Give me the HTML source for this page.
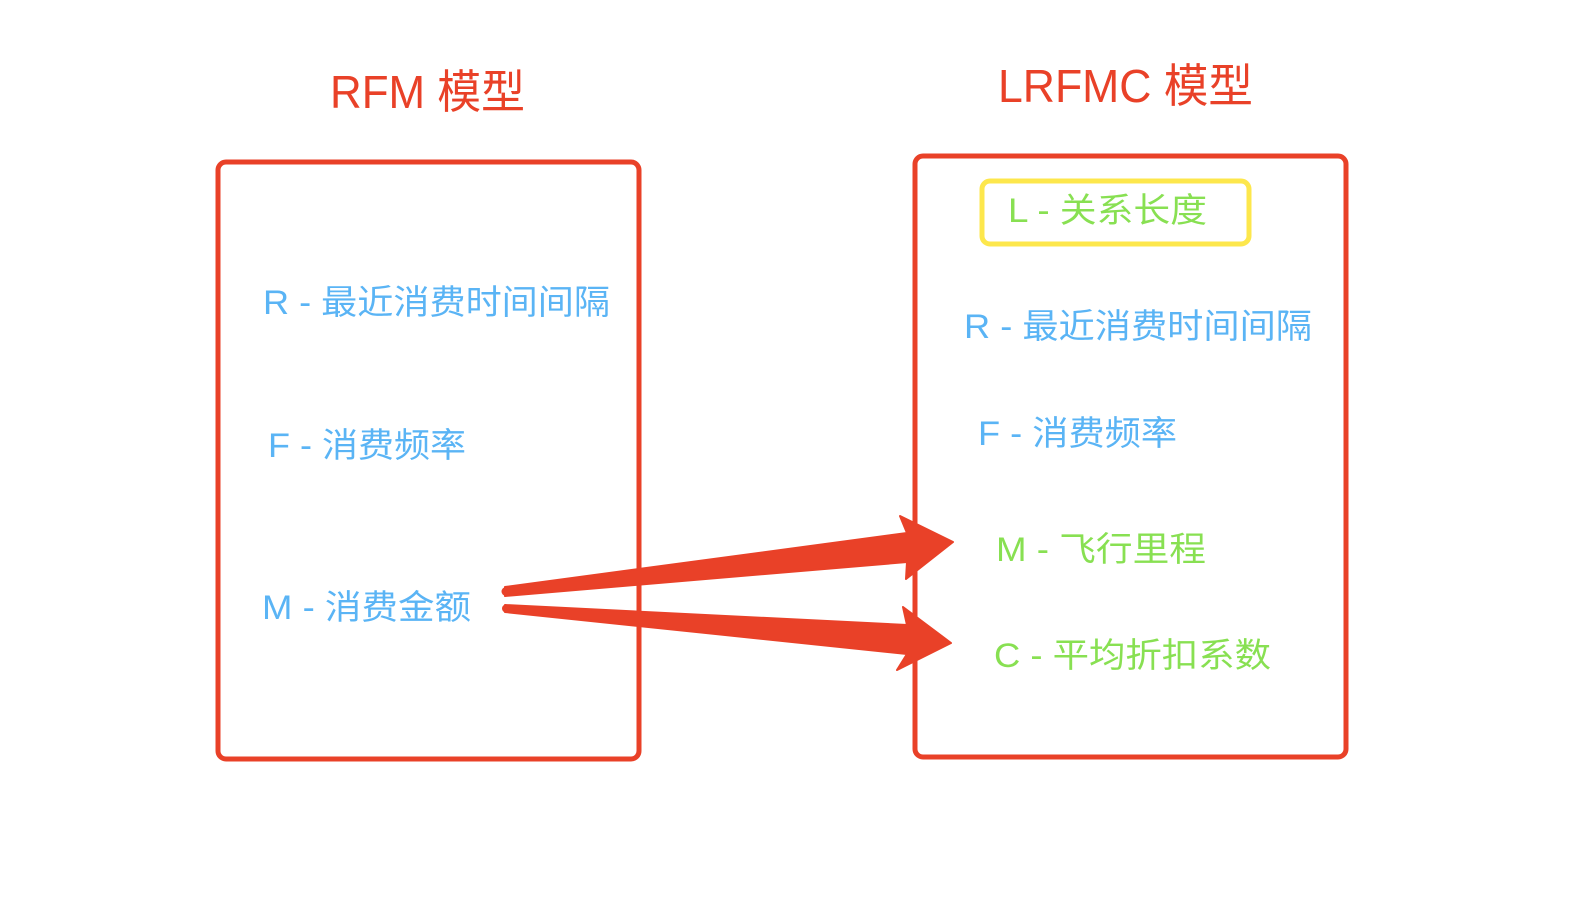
<!DOCTYPE html>
<html><head><meta charset="utf-8"><style>html,body{margin:0;padding:0;background:#fff}svg{display:block}</style></head>
<body>
<svg width="1572" height="916" viewBox="0 0 1572 916" xmlns="http://www.w3.org/2000/svg">
<g font-family="Liberation Sans, Noto Sans CJK SC, sans-serif">
<text x="330" y="108" font-size="46" fill="#e94128" textLength="195" lengthAdjust="spacingAndGlyphs">RFM 模型</text>
<text x="998" y="102" font-size="46" fill="#e94128" textLength="255" lengthAdjust="spacingAndGlyphs">LRFMC 模型</text>
<rect x="218" y="162" width="421" height="597" rx="8" fill="none" stroke="#e94128" stroke-width="5"/>
<rect x="915" y="156" width="431" height="601" rx="8" fill="none" stroke="#e94128" stroke-width="5"/>
<rect x="982" y="181" width="267" height="63" rx="8" fill="none" stroke="#fde74c" stroke-width="5"/>
<g font-size="34" fill="#5ab4f5">
<text x="263" y="314" textLength="347" lengthAdjust="spacingAndGlyphs">R - 最近消费时间间隔</text>
<text x="268" y="457" textLength="198" lengthAdjust="spacingAndGlyphs">F - 消费频率</text>
<text x="262" y="619" textLength="209" lengthAdjust="spacingAndGlyphs">M - 消费金额</text>
<text x="964" y="338" textLength="348" lengthAdjust="spacingAndGlyphs">R - 最近消费时间间隔</text>
<text x="978" y="445" textLength="199" lengthAdjust="spacingAndGlyphs">F - 消费频率</text>
</g>
<g font-size="34" fill="#88e052">
<text x="1008" y="222" textLength="199" lengthAdjust="spacingAndGlyphs">L - 关系长度</text>
<text x="996" y="561" textLength="210" lengthAdjust="spacingAndGlyphs">M - 飞行里程</text>
<text x="994" y="667" textLength="277" lengthAdjust="spacingAndGlyphs">C - 平均折扣系数</text>
</g>
<g fill="#e94128" stroke="#e94128" stroke-linejoin="round" stroke-width="2">
<path d="M505,587 L907,533 L900,516 L953,542 L906,579 L907,562 L505,596 Z"/>
<path d="M505,605 L907,625 L903,607 L951,643 L897,670 L907,654 L505,612 Z"/>
<circle cx="506" cy="591.5" r="4.5" stroke="none"/>
<circle cx="506" cy="608.5" r="4" stroke="none"/>
</g>
</g>
</svg>
</body></html>
